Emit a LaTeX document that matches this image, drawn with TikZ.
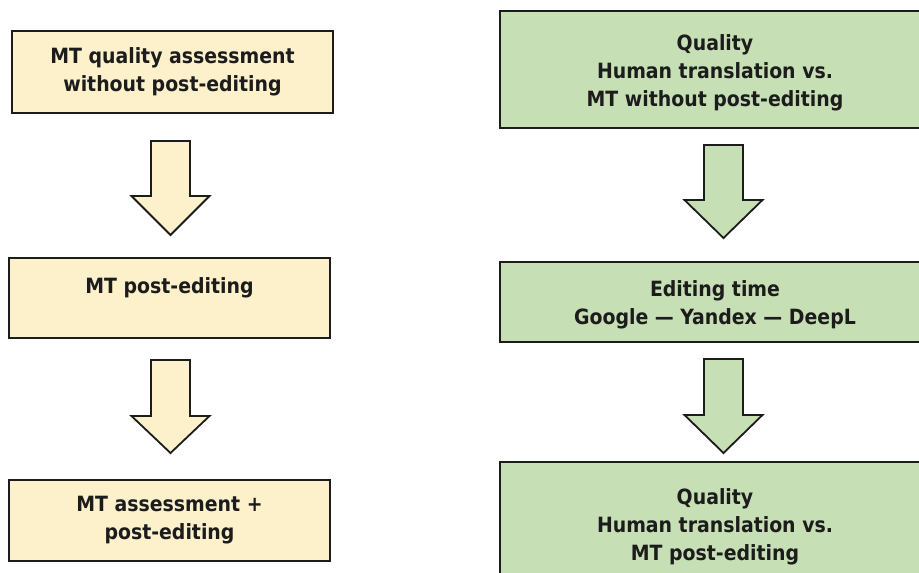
\documentclass[tikz,border=0pt]{standalone}
\usepackage{fontspec}
\setmainfont{DejaVu Sans Condensed}[BoldFont={DejaVu Sans Condensed Bold}]
\definecolor{cream}{HTML}{FDF1CB}
\definecolor{leaf}{HTML}{C6DFB4}
\definecolor{ink}{HTML}{1C1C1C}
\tikzset{
  box/.style={draw=ink, line width=1.8pt, rectangle, inner sep=0pt, align=center,
    font=\bfseries\fontsize{21}{28}\selectfont, text=ink},
  lbox/.style={box, fill=cream, minimum width=321pt},
  rbox/.style={box, fill=leaf, minimum width=430pt},
  txt/.style={inner sep=0pt, align=center, font=\bfseries\fontsize{21}{28}\selectfont, text=ink},
  blockarrow/.style={draw=ink, line width=1.8pt, line join=miter},
}
\newcommand{\downblock}[5]{% fill, centre x, top y, head y, tip y
  \draw[blockarrow, fill=#1] (#2-19.5,#3) -- (#2+19.5,#3) -- (#2+19.5,#4) -- (#2+39,#4)
     -- (#2,#5) -- (#2-39,#4) -- (#2-19.5,#4) -- cycle;}
\begin{document}
\begin{tikzpicture}[x=1pt,y=-1pt]
\useasboundingbox (0,0) rectangle (919,573);
\fill[white] (0,0) rectangle (919,573);
\clip (0,0) rectangle (919,573);
% left column
\node[lbox, minimum height=82pt] (L1) at (172.5,72) {MT quality assessment\\without post-editing};
\node[lbox, minimum height=80pt] (L2) at (169.5,298) {};
\node[txt] (L2t) at (169.5,288) {MT post-editing};
\node[lbox, minimum height=81pt] (L3) at (169.5,520.5) {MT assessment +\\post-editing};
% right column
\node[rbox, minimum height=117pt] (R1) at (715,69.5) {};
\node[txt] (R1t) at (715,73) {Quality\\Human translation vs.\\MT without post-editing};
\node[rbox, minimum height=80pt] (R2) at (715,302) {};
\node[txt] (R2t) at (715,305) {Editing time\\Google — Yandex — DeepL};
\node[rbox, minimum height=130pt] (R3) at (715,527) {};
\node[txt] (R3t) at (715,527) {Quality\\Human translation vs.\\MT post-editing};
% block arrows
\downblock{cream}{170.5}{141}{196}{235}
\downblock{cream}{170.5}{360}{416}{453}
\downblock{leaf}{723.5}{145}{200}{238}
\downblock{leaf}{723.5}{359}{415}{453}
\end{tikzpicture}
\end{document}
